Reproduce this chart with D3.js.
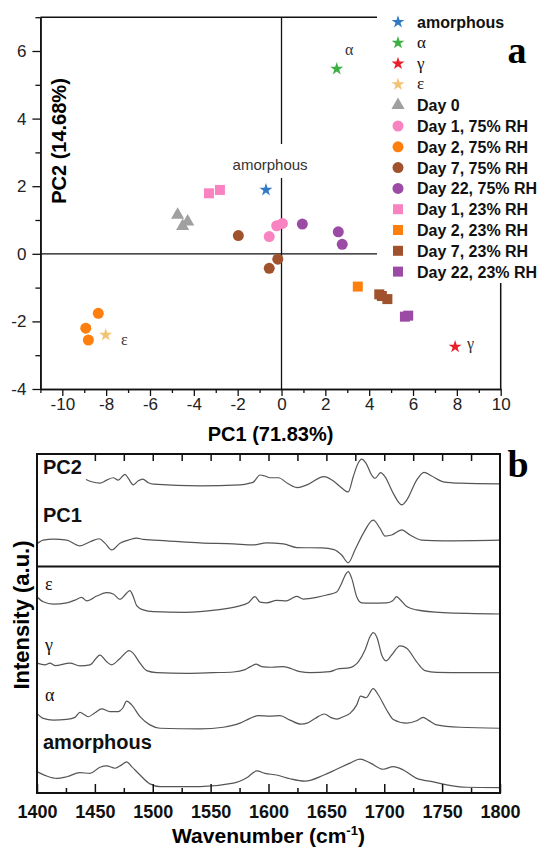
<!DOCTYPE html>
<html><head><meta charset="utf-8">
<script src="https://cdn.jsdelivr.net/npm/d3@7"></script>
<style>body{margin:0;background:#fff} svg{display:block}</style>
</head><body><svg id="c" width="537" height="848"></svg>
<script>
// ================= Panel a: PCA scores =================
const groups = ["amorphous","α","γ","ε","Day 0","Day 1, 75% RH","Day 2, 75% RH","Day 7, 75% RH","Day 22, 75% RH","Day 1, 23% RH","Day 2, 23% RH","Day 7, 23% RH","Day 22, 23% RH"];
const groupPC1 = [[-0.71],[2.52],[7.92],[-8.02],[-4.74,-4.28,-4.51],[-0.56,-0.22,0.04],[-8.36,-8.93,-8.81],[-1.97,-0.17,-0.56],[0.95,2.59,2.77],[-3.31,-2.81],[3.48],[4.46,4.58,4.83],[5.63,5.78]];
const groupPC2 = [[1.89],[5.47],[-2.75],[-2.40],[1.15,0.95,0.82],[0.51,0.83,0.90],[-1.76,-2.20,-2.55],[0.54,-0.16,-0.43],[0.88,0.65,0.28],[1.79,1.89],[-0.97],[-1.20,-1.25,-1.34],[-1.86,-1.83]];
const groupShape = ["star","star","star","star","triangle","circle","circle","circle","circle","square","square","square","square"];
const groupColor = ["#3178c6","#3cb043","#e8202a","#f1c475","#a0a0a0","#f883c0","#ff7f0e","#a0522d","#9b4aa5","#f883c0","#ff7f0e","#a0522d","#9b4aa5"];
const pc1Ticks = [-10,-8,-6,-4,-2,0,2,4,6,8,10];
const pc2Ticks = [-4,-2,0,2,4,6];
const annText = ["amorphous","α","ε","γ"];
const annPC1 = [-0.52,2.90,-7.32,8.46];
const annPC2 = [2.48,5.88,-2.70,-2.82];

// ================= Panel b: spectra =================
const wnTicks = [1400,1450,1500,1550,1600,1650,1700,1750,1800];
const specNames = ["PC2","PC1","ε","γ","α","amorphous"];
const pc2Wn  = [1442.3,1447.3,1454.4,1460.2,1465.9,1470.2,1476.0,1478.9,1483.2,1487.5,1491.3,1496.2,1500.5,1540.8,1575.4,1584.0,1586.9,1592.7,1597.0,1601.3,1608.5,1617.1,1625.0,1633.3,1647.9,1654.9,1661.8,1664.6,1668.9,1673.2,1677.6,1680.5,1684.2,1689.1,1692.0,1696.9,1700.6,1707.8,1715.1,1719.4,1728.0,1734.3,1741.0,1751.0,1765.4,1800];
const pc2Int = [92.5,91.8,91.4,92.3,93.0,92.3,94.0,92.8,90.9,92.1,92.6,91.5,91.1,90.6,90.9,91.4,91.7,93.8,93.5,93.0,93.0,91.2,90.1,90.9,93.3,92.3,90.4,89.6,88.8,93.3,97.4,98.5,97.3,93.8,92.8,94.5,93.3,88.4,85.0,86.4,92.3,94.6,93.5,91.8,91.4,91.2];
const pc1Wn  = [1400,1405.4,1414.1,1425.7,1437.1,1445.8,1453.8,1458.7,1464.5,1471.7,1478.9,1486.1,1491.8,1512.1,1540.8,1569.6,1586.9,1598.4,1612.8,1624.4,1646.2,1656.6,1663.2,1668.9,1674.7,1681.9,1690.5,1696.3,1700.6,1706.4,1715.1,1722.2,1732.3,1751.0,1800];
const pc1Int = [73.5,74.6,74.9,74.6,72.9,74.1,75.0,73.7,71.7,73.7,74.6,75.2,74.8,74.4,73.8,73.5,73.2,73.8,73.5,72.4,72.3,71.8,70.2,67.9,71.7,76.6,80.5,78.1,75.8,76.1,77.6,76.1,74.6,74.4,74.6];
const epsWn  = [1400,1405.4,1414.1,1425.7,1432.8,1438.6,1442.9,1451.6,1460.2,1465.9,1471.7,1476.0,1480.3,1483.2,1486.1,1491.8,1500.5,1527.9,1555.2,1572.5,1582.6,1588.3,1592.7,1598.4,1607.1,1615.7,1624.4,1630.1,1641.6,1650.3,1658.9,1663.2,1667.2,1668.9,1671.9,1676.2,1680.5,1687.7,1702.1,1707.3,1710.7,1713.6,1719.4,1728.0,1751.0,1800];
const epsInt = [57.9,56.4,55.7,56.1,56.9,57.7,56.7,58.1,59.1,58.7,57.1,58.4,59.7,57.9,55.3,54.0,53.5,53.3,54.0,55.0,56.1,57.9,56.3,56.1,56.8,56.7,58.0,57.2,57.7,58.4,59.3,61.9,64.8,65.3,63.3,57.9,56.1,56.0,56.1,56.7,57.9,57.1,55.0,54.0,53.2,52.8];
const gamWn  = [1400,1406.9,1411.2,1415.5,1428.5,1437.1,1445.8,1454.4,1460.2,1464.5,1471.7,1479.7,1483.2,1489.0,1494.8,1503.4,1529.3,1552.3,1569.6,1579.7,1584.0,1589.2,1594.1,1602.8,1612.8,1627.2,1635.8,1653.1,1658.9,1670.4,1677.6,1683.4,1687.7,1690.5,1694.0,1697.8,1701.5,1706.4,1713.6,1719.4,1728.0,1735.2,1745.3,1771.2,1800];
const gamInt = [38.3,37.8,38.3,37.6,38.3,37.5,37.8,40.7,38.7,37.8,39.7,42.0,41.2,38.3,36.1,35.5,35.3,35.5,35.7,36.4,37.2,38.0,37.3,37.1,37.3,35.8,35.5,35.8,36.5,37.0,38.7,42.2,46.1,47.3,45.6,40.7,39.0,40.7,43.4,42.7,38.7,36.1,35.6,35.5,35.5];
const alpWn  = [1400,1405.4,1414.1,1425.7,1432.8,1437.1,1441.5,1444.3,1450.1,1455.9,1463.1,1470.2,1474.0,1477.5,1481.8,1489.0,1497.6,1506.3,1540.8,1561.0,1575.4,1584.0,1591.2,1601.3,1609.9,1618.6,1628.1,1633.3,1640.2,1648.4,1653.6,1659.2,1664.6,1670.4,1676.2,1679.6,1684.2,1690.5,1694.9,1702.1,1707.8,1719.4,1728.0,1733.7,1738.0,1745.3,1765.4,1800];
const alpInt = [23.5,22.0,21.5,21.7,22.3,23.8,23.0,22.5,23.7,24.8,24.0,24.0,25.0,27.1,26.0,22.5,20.1,19.1,18.9,19.4,20.6,22.0,22.8,22.7,22.8,21.5,20.3,20.6,22.0,23.3,22.3,21.8,22.5,23.5,26.0,28.6,28.1,30.8,28.9,24.5,21.7,20.6,21.3,22.3,21.5,20.1,19.4,19.1];
const amoWn  = [1400,1408.4,1417.0,1425.7,1437.1,1445.8,1454.4,1460.2,1467.4,1473.2,1477.5,1481.8,1489.0,1497.6,1506.3,1540.8,1569.6,1581.2,1589.8,1597.0,1607.1,1618.6,1631.5,1647.9,1658.9,1670.4,1679.0,1687.7,1699.2,1707.8,1716.5,1728.0,1742.4,1754.0,1771.2,1800];
const amoInt = [6.3,5.0,4.3,4.8,6.0,5.8,7.6,8.0,7.3,8.3,9.2,7.8,5.3,2.7,1.9,1.9,2.9,4.5,6.5,5.8,5.3,4.2,3.5,5.3,7.0,8.8,10.0,8.9,7.0,7.8,6.8,4.3,3.3,2.4,1.7,1.6];
const specWn  = [pc2Wn,pc1Wn,epsWn,gamWn,alpWn,amoWn];
const specInt = [pc2Int,pc1Int,epsInt,gamInt,alpInt,amoInt];
const specLabelLevel = [94,80,60,42,27,13];   // label positions (a.u.)
const separatorLevel = 66.8;                   // a.u.

// ================= drawing =================
const SANS = "'Liberation Sans', Arial, sans-serif";
const SERIF = "'Liberation Serif', 'Times New Roman', serif";
const svg = d3.select("#c");

const x = d3.scaleLinear().domain([-11,10]).range([40.4,500.7]);
const y = d3.scaleLinear().domain([-4,7]).range([389,17.2]);
const ga = svg.append("g");

// zero lines
ga.append("line").attr("x1",x(-11)).attr("x2",x(10)).attr("y1",y(0)).attr("y2",y(0)).attr("stroke","#111").attr("stroke-width",1.3);
ga.append("line").attr("x1",x(0)).attr("x2",x(0)).attr("y1",y(7)).attr("y2",y(-4)).attr("stroke","#111").attr("stroke-width",1.3);
// top/right frame
ga.append("path").attr("d",`M${x(-11)},${y(7)}H${x(10)}V${y(-4)}`).attr("fill","none").attr("stroke","#111").attr("stroke-width",1.5);

function styleAxis(g){
  g.select(".domain").attr("stroke","#111").attr("stroke-width",1.5);
  g.selectAll(".tick line").attr("stroke","#111").attr("stroke-width",1.3);
  g.selectAll("text").attr("fill","#222").attr("font-family",SANS).attr("font-size",17);
}
const xMinor = d3.range(-11,11).filter(v=>pc1Ticks.indexOf(v)<0);
const yMinor = d3.range(-4,8).filter(v=>pc2Ticks.indexOf(v)<0);
ga.append("g").attr("transform",`translate(0,${y(-4)})`)
  .call(d3.axisBottom(x).tickValues(xMinor).tickFormat("").tickSizeInner(4).tickSizeOuter(0)).call(styleAxis);
ga.append("g").attr("transform",`translate(0,${y(-4)})`)
  .call(d3.axisBottom(x).tickValues(pc1Ticks).tickFormat(d=>String(d)).tickSizeInner(7).tickSizeOuter(0).tickPadding(2)).call(styleAxis);
ga.append("g").attr("transform",`translate(${x(-11)},0)`)
  .call(d3.axisLeft(y).tickValues(yMinor).tickFormat("").tickSizeInner(5).tickSizeOuter(0)).call(styleAxis);
ga.append("g").attr("transform",`translate(${x(-11)},0)`)
  .call(d3.axisLeft(y).tickValues(pc2Ticks).tickFormat(d=>String(d)).tickSizeInner(8).tickSizeOuter(0).tickPadding(6)).call(styleAxis);

// axis titles
ga.append("text").attr("x",(x(-11)+x(10))/2).attr("y",441).attr("text-anchor","middle")
  .attr("font-family",SANS).attr("font-weight","bold").attr("font-size",20).text("PC1 (71.83%)");
ga.append("text").attr("transform","translate(66,141) rotate(-90)").attr("text-anchor","middle")
  .attr("font-family",SANS).attr("font-weight","bold").attr("font-size",20).text("PC2 (14.68%)");

// annotations
annText.forEach((t,i)=>{
  const greek = t.length===1;
  const tx = ga.append("text").attr("x",x(annPC1[i])).attr("y",y(annPC2[i]))
    .attr("text-anchor",greek?"start":"middle")
    .attr("font-family",greek?SERIF:SANS).attr("font-size",greek?16:15).attr("fill","#333").text(t);
  if(!greek){
    const bb = tx.node().getBBox();
    ga.insert("rect",()=>tx.node()).attr("x",bb.x-3).attr("y",bb.y-12).attr("width",bb.width+6).attr("height",bb.height+17).attr("fill","#fff");
  }
});

function symType(s){return s==="star"?d3.symbolStar:s==="triangle"?d3.symbolTriangle:s==="square"?d3.symbolSquare:d3.symbolCircle;}
function symSize(s){return s==="star"?52:s==="triangle"?75:s==="square"?100:95;}

// points
groups.forEach((g,i)=>{
  groupPC1[i].forEach((v,j)=>{
    ga.append("path").attr("d",d3.symbol().type(symType(groupShape[i])).size(symSize(groupShape[i]))())
      .attr("transform",`translate(${x(v)},${y(groupPC2[i][j])})`).attr("fill",groupColor[i]);
  });
});

// legend
const lg = svg.append("g");
lg.append("rect").attr("x",377).attr("y",0).attr("width",160).attr("height",283).attr("fill","#fff");
groups.forEach((g,i)=>{
  const ry = 22 + i*20.8;
  lg.append("path").attr("d",d3.symbol().type(symType(groupShape[i])).size(symSize(groupShape[i]))())
    .attr("transform",`translate(398,${ry})`).attr("fill",groupColor[i]);
  const greek = g.length===1;
  lg.append("text").attr("x",417).attr("y",ry+(greek?5:6))
    .attr("font-family",greek?SERIF:SANS).attr("font-weight",greek?"normal":"bold")
    .attr("font-size",greek?17:16).attr("fill","#111").text(g);
});
svg.append("text").attr("x",517).attr("y",63).attr("text-anchor","middle")
  .attr("font-family",SERIF).attr("font-weight","bold").attr("font-size",38).text("a");

// ---------- Panel b ----------
const xw = d3.scaleLinear().domain([1400,1800]).range([37,500]);
const yi = d3.scaleLinear().domain([0,100]).range([793,454]);
const gb = svg.append("g");
const line = d3.line().x(d=>xw(d[0])).y(d=>yi(d[1])).curve(d3.curveMonotoneX);
specNames.forEach((n,i)=>{
  const pts = specWn[i].map((w,k)=>[w,specInt[i][k]]);
  gb.append("path").attr("d",line(pts)).attr("fill","none").attr("stroke","#555").attr("stroke-width",1.2);
});
// separator
gb.append("line").attr("x1",xw(1400)).attr("x2",xw(1800)).attr("y1",yi(separatorLevel)).attr("y2",yi(separatorLevel)).attr("stroke","#111").attr("stroke-width",2);
// frame
gb.append("rect").attr("x",xw(1400)).attr("y",yi(100)).attr("width",xw(1800)-xw(1400)).attr("height",yi(0)-yi(100))
  .attr("fill","none").attr("stroke","#111").attr("stroke-width",2);
// ticks
const wnMinor = d3.range(1425,1800,50);
const topTicks = d3.range(1450,1800,25);
function styleB(g){
  g.select(".domain").remove();
  g.selectAll(".tick line").attr("stroke","#111").attr("stroke-width",1.5);
  g.selectAll("text").attr("fill","#111").attr("font-family",SANS).attr("font-weight","bold").attr("font-size",18);
}
gb.append("g").attr("transform",`translate(0,${yi(0)})`)
  .call(d3.axisBottom(xw).tickValues(wnMinor).tickFormat("").tickSizeInner(-5).tickSizeOuter(0)).call(styleB);
gb.append("g").attr("transform",`translate(0,${yi(0)})`)
  .call(d3.axisBottom(xw).tickValues(wnTicks).tickFormat(d=>String(d)).tickSizeInner(-9).tickSizeOuter(0).tickPadding(12)).call(styleB);
gb.append("g").attr("transform",`translate(0,${yi(100)})`)
  .call(d3.axisTop(xw).tickValues(topTicks).tickFormat("").tickSizeInner(-7).tickSizeOuter(0)).call(styleB);

// spectrum labels
specNames.forEach((n,i)=>{
  const greek = n.length===1;
  gb.append("text").attr("x",greek?45:43).attr("y",yi(specLabelLevel[i]))
    .attr("font-family",greek?SERIF:SANS).attr("font-weight",greek?"normal":"bold")
    .attr("font-size",greek?18:20).attr("fill","#111").text(n);
});
// titles
const xt = gb.append("text").attr("x",(xw(1400)+xw(1800))/2).attr("y",843).attr("text-anchor","middle")
  .attr("font-family",SANS).attr("font-weight","bold").attr("font-size",21);
xt.append("tspan").text("Wavenumber (cm");
xt.append("tspan").attr("font-size",13).attr("dy",-8).text("-1");
xt.append("tspan").attr("dy",8).text(")");
gb.append("text").attr("transform","translate(29,615) rotate(-90)").attr("text-anchor","middle")
  .attr("font-family",SANS).attr("font-weight","bold").attr("font-size",22).text("Intensity (a.u.)");
svg.append("text").attr("x",518).attr("y",477).attr("text-anchor","middle")
  .attr("font-family",SERIF).attr("font-weight","bold").attr("font-size",38).text("b");
</script></body></html>
